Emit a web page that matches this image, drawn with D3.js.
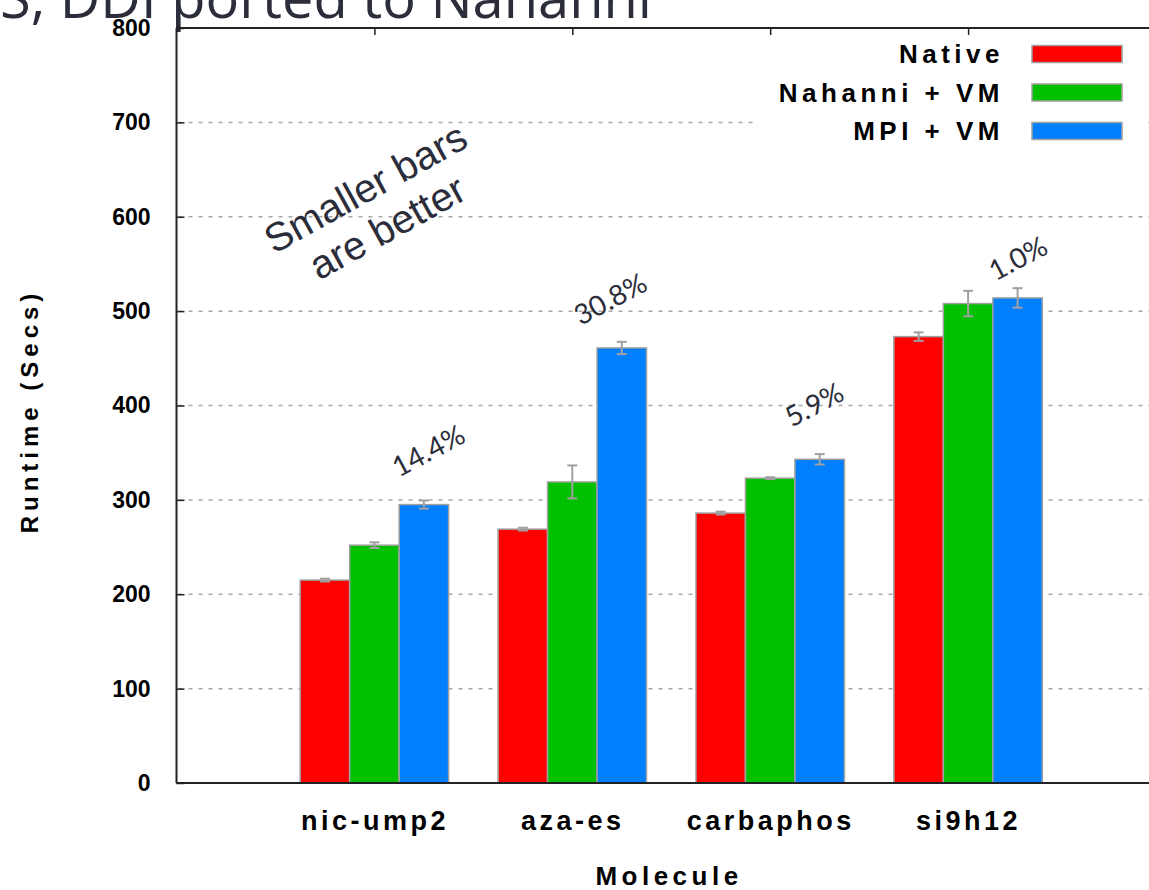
<!DOCTYPE html>
<html><head><meta charset="utf-8">
<script src="https://cdn.jsdelivr.net/npm/d3@7"></script>
<style>body{margin:0;background:#fff;} svg{display:block;}</style>
</head><body>
<svg id="c" width="1149" height="890"></svg>
<script>
const categories = ["nic-ump2", "aza-es", "carbaphos", "si9h12"];
const seriesNames = ["Native", "Nahanni + VM", "MPI + VM"];
const seriesColors = ["#ff0000", "#00c000", "#0080ff"];
const nativeVals  = [215, 269, 286, 473];
const nativeErr   = [1.5, 1.5, 1.5, 4.5];
const nahanniVals = [252, 319, 323, 508];
const nahanniErr  = [3, 17.5, 1, 13.5];
const mpiVals     = [295, 461, 343, 514];
const mpiErr      = [4.3, 6.5, 5.5, 10.3];
const overheadLabels = ["14.4%", "30.8%", "5.9%", "1.0%"];
// label anchor: offset from group centre (in groups) and height (in secs)
const overheadOffset = [0.27, 0.19, 0.22, 0.25];
const overheadHeight = [353, 514, 402, 557];
const yTicks = [0, 100, 200, 300, 400, 500, 600, 700, 800];

const values = [nativeVals, nahanniVals, mpiVals];
const errs = [nativeErr, nahanniErr, mpiErr];

const svg = d3.select("#c");
const L = 176.5, T = 28, B = 783;
const x = d3.scaleLinear().domain([-1, 4]).range([L, 1166]);
const y = d3.scaleLinear().domain([0, 800]).range([B, T]);
const step = x(1) - x(0);
const bw = step / 4;
const FONT = "Liberation Sans, Arial, sans-serif";

// title (partially cut off at top, as in the reference)
svg.append("text").attr("x", 652).attr("y", 18).attr("text-anchor", "end")
  .attr("font-family", "Open Sans").attr("font-size", 56).attr("fill", "#2b2d3a")
  .text("GAMESS, DDI ported to Nahanni");

// grid
const grid = svg.append("g");
yTicks.filter(d => d > 0 && d < 800).forEach(t => {
  grid.append("line").attr("x1", L + 2).attr("x2", 1149).attr("y1", y(t)).attr("y2", y(t))
    .attr("stroke", "#a8a8a8").attr("stroke-width", 1.5).attr("stroke-dasharray", "4,6");
});

// annotation "Smaller bars are better"
const ann = svg.append("g").attr("transform", "translate(376,207) rotate(-29)");
[["Smaller bars", -22], ["are better", 23]].forEach(([t, dy]) => {
  ann.append("text").attr("x", 0).attr("y", dy).attr("text-anchor", "middle")
    .attr("dominant-baseline", "central")
    .attr("font-family", FONT).attr("font-size", 40).attr("fill", "#2b2d3a").text(t);
});

// bars
const bars = svg.append("g");
values.forEach((vals, s) => {
  vals.forEach((v, i) => {
    const x0 = x(i) + (s - 1.5) * bw;
    bars.append("rect").attr("x", x0).attr("y", y(v)).attr("width", bw).attr("height", y(0) - y(v))
      .attr("fill", seriesColors[s]).attr("stroke", "#a0a0a0").attr("stroke-width", 1.5);
  });
});
// error bars
values.forEach((vals, s) => {
  vals.forEach((v, i) => {
    const cx = x(i) + (s - 1) * bw;
    const e = errs[s][i];
    const g = bars.append("g").attr("stroke", "#a0a0a0").attr("stroke-width", 2);
    g.append("line").attr("x1", cx).attr("x2", cx).attr("y1", y(v + e)).attr("y2", y(v - e));
    g.append("line").attr("x1", cx - 5).attr("x2", cx + 5).attr("y1", y(v + e)).attr("y2", y(v + e));
    g.append("line").attr("x1", cx - 5).attr("x2", cx + 5).attr("y1", y(v - e)).attr("y2", y(v - e));
  });
});

// overhead labels
overheadLabels.forEach((t, i) => {
  const cx = x(i + overheadOffset[i]);
  const cy = y(overheadHeight[i]);
  svg.append("text").attr("transform", `translate(${cx},${cy}) rotate(-28)`)
    .attr("text-anchor", "middle").attr("dominant-baseline", "central")
    .attr("font-family", "Lato, Open Sans").attr("font-size", 28).attr("fill", "#2b2d3a").text(t);
});

// frame
const frame = svg.append("g");
frame.append("line").attr("x1", L).attr("x2", 1149).attr("y1", T).attr("y2", T).attr("stroke", "#222").attr("stroke-width", 2);
frame.append("line").attr("x1", L).attr("x2", 1149).attr("y1", B).attr("y2", B).attr("stroke", "#222").attr("stroke-width", 2);
frame.append("line").attr("x1", L).attr("x2", L).attr("y1", T).attr("y2", B).attr("stroke", "#222").attr("stroke-width", 2);

// y axis
const yAxis = d3.axisLeft(y).tickValues(yTicks).tickSize(-8).tickPadding(26).tickFormat(d3.format("d"));
const ya = svg.append("g").attr("transform", `translate(${L},0)`).call(yAxis);
ya.select(".domain").remove();
ya.selectAll(".tick line").attr("stroke", "#222").attr("stroke-width", 1.5);
ya.selectAll(".tick text").attr("font-family", FONT).attr("font-weight", "bold")
  .attr("font-size", 23).attr("fill", "#000");

// top ticks at group centers
const xTop = d3.axisTop(x).tickValues(d3.range(categories.length)).tickSize(-7).tickFormat("");
const xt = svg.append("g").attr("transform", `translate(0,${T})`).call(xTop);
xt.select(".domain").remove();
xt.selectAll(".tick line").attr("stroke", "#222").attr("stroke-width", 1.5);

// x category labels
const xAxis = d3.axisBottom(x).tickValues(d3.range(categories.length)).tickSize(0).tickPadding(28)
  .tickFormat(i => categories[i]);
const xa = svg.append("g").attr("transform", `translate(0,${B})`).call(xAxis);
xa.select(".domain").remove();
xa.selectAll(".tick text").attr("font-family", FONT).attr("font-weight", "bold")
  .attr("font-size", 27).attr("letter-spacing", 3.5).attr("fill", "#000");

// axis titles
svg.append("text").attr("x", 669).attr("y", 885).attr("text-anchor", "middle")
  .attr("font-family", FONT).attr("font-weight", "bold").attr("font-size", 26)
  .attr("letter-spacing", 4.5).text("Molecule");
svg.append("text").attr("transform", "translate(38,411) rotate(-90)").attr("text-anchor", "middle")
  .attr("font-family", FONT).attr("font-weight", "bold").attr("font-size", 24)
  .attr("letter-spacing", 5).text("Runtime (Secs)");

// legend
const lg = svg.append("g");
lg.append("rect").attr("x", 758).attr("y", 35).attr("width", 385).attr("height", 112).attr("fill", "#fff");
seriesNames.forEach((n, s) => {
  const cy = 54 + s * 38.5;
  lg.append("text").attr("x", 1004).attr("y", cy).attr("text-anchor", "end").attr("dominant-baseline", "central")
    .attr("font-family", FONT).attr("font-weight", "bold").attr("font-size", 26)
    .attr("letter-spacing", 4.5).text(n);
  lg.append("rect").attr("x", 1032).attr("y", cy - 8.5).attr("width", 90).attr("height", 17)
    .attr("fill", seriesColors[s]).attr("stroke", "#a0a0a0").attr("stroke-width", 1.5);
});
</script>
</body></html>
